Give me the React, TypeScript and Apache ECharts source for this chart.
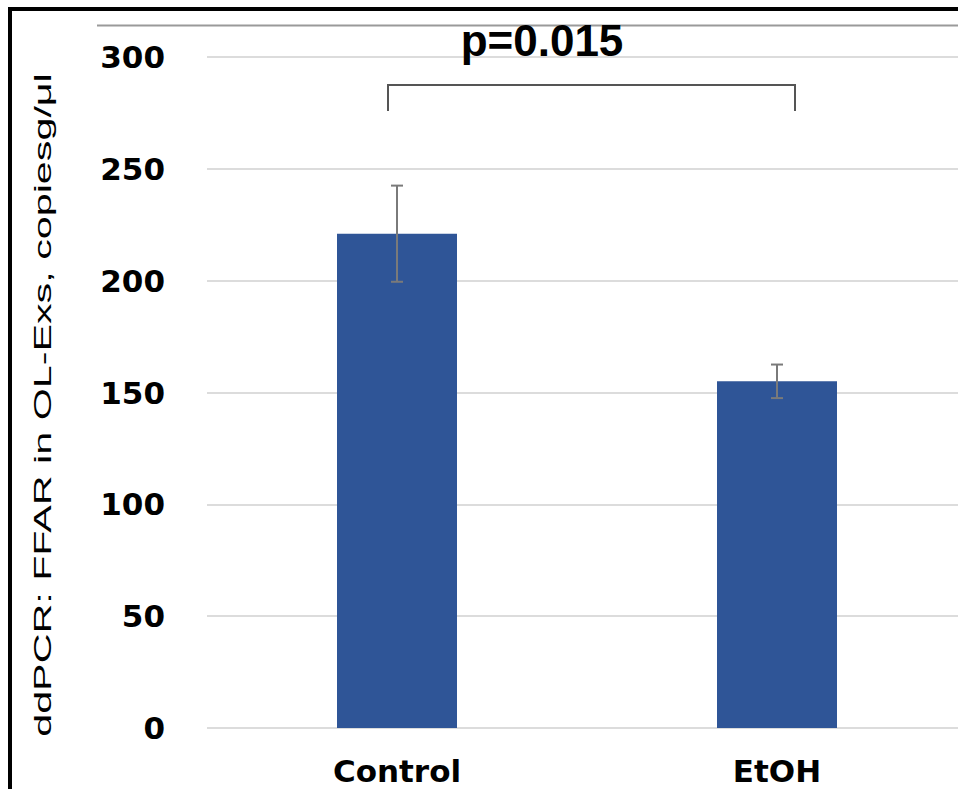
import React, { useEffect, useRef } from "react";
import * as echarts from "echarts";

const categories = ["Control", "EtOH"];
const means = [221, 155];
const errors = [21.5, 7.5];
const yTicks = { min: 0, max: 300, interval: 50 };
const yTitle = "ddPCR: FFAR in OL-Exs, copiesg/\u03bcl";
const pLabel = "p=0.015";

export default function App() {
  const ref = useRef<HTMLDivElement>(null);
  useEffect(() => {
    document.body.style.margin = "0";
    const chart = echarts.init(ref.current!, null, { renderer: "svg" });
    const errData = categories.map((c, i) => [i, means[i], errors[i]]);
    chart.setOption({
      animation: false,
      backgroundColor: "#ffffff",
      grid: { left: 207, right: 0, top: 57, bottom: 61, containLabel: false },
      xAxis: {
        type: "category",
        data: categories,
        axisLine: { show: false },
        axisTick: { show: false },
        axisLabel: {
          margin: 28,
          color: "#000",
          fontFamily: "DejaVu Sans",
          fontWeight: "bold",
          fontSize: 31,
          lineHeight: 30,
        },
      },
      yAxis: {
        type: "value",
        min: yTicks.min,
        max: yTicks.max,
        interval: yTicks.interval,
        axisLine: { show: false },
        axisTick: { show: false },
        axisLabel: {
          margin: 42,
          color: "#000",
          fontFamily: "DejaVu Sans",
          fontWeight: "bold",
          fontSize: 31,
        },
        splitLine: { lineStyle: { color: "#dcdcdc", width: 2 } },
      },
      series: [
        {
          type: "bar",
          data: means,
          barWidth: 120,
          itemStyle: { color: "#2F5597" },
        },
        {
          type: "custom",
          data: errData,
          z: 10,
          renderItem: (params: any, api: any) => {
            const x = api.value(0);
            const m = api.value(1);
            const e = api.value(2);
            const top = api.coord([x, m + e]);
            const bot = api.coord([x, m - e]);
            const hw = 6;
            const style = { stroke: "#7a7a7a", lineWidth: 2 };
            return {
              type: "group",
              children: [
                { type: "line", shape: { x1: top[0], y1: top[1], x2: bot[0], y2: bot[1] }, style },
                { type: "line", shape: { x1: top[0] - hw, y1: top[1], x2: top[0] + hw, y2: top[1] }, style },
                { type: "line", shape: { x1: bot[0] - hw, y1: bot[1], x2: bot[0] + hw, y2: bot[1] }, style },
              ],
            };
          },
        },
      ],
      graphic: [
        {
          type: "polyline",
          shape: { points: [[10, 789], [10, 9], [967, 9]] },
          style: { stroke: "#000", lineWidth: 4, fill: "none" },
        },
        {
          type: "line",
          shape: { x1: 97, y1: 25.5, x2: 967, y2: 25.5 },
          style: { stroke: "#9a9a9a", lineWidth: 2 },
        },
        {
          type: "polyline",
          shape: { points: [[388, 111], [388, 85], [795, 85], [795, 111]] },
          style: { stroke: "#555", lineWidth: 2, fill: "none" },
        },
        {
          type: "text",
          x: 542,
          y: 40,
          z: 100,
          style: {
            text: pLabel,
            font: "bold 44px 'Liberation Sans', Arial, sans-serif",
            fill: "#000",
            textAlign: "center",
            textVerticalAlign: "middle",
          },
        },
        {
          type: "text",
          x: 42,
          y: 405,
          rotation: Math.PI / 2,
          scaleX: 1.72,
          style: {
            text: yTitle,
            font: "24px 'Liberation Sans', Arial, sans-serif",
            fill: "#000",
            textAlign: "center",
            textVerticalAlign: "middle",
          },
        },
      ],
    });
    return () => chart.dispose();
  }, []);
  return (
    <div style={{ width: 958, height: 789, overflow: "hidden" }}>
      <div ref={ref} style={{ width: 967, height: 789 }} />
    </div>
  );
}
